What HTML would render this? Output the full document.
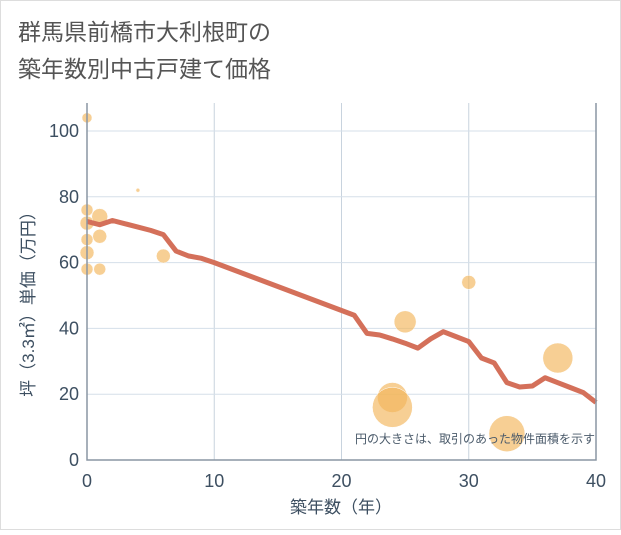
<!DOCTYPE html>
<html><head><meta charset="utf-8"><style>
body{margin:0;background:#fff}
.f{font-family:"Liberation Sans","Noto Sans CJK JP",sans-serif}
</style></head><body>
<svg width="621" height="530" class="f">
<rect x="0.5" y="0.5" width="620" height="529" fill="#fff" stroke="#ddd"/>
<text x="18" y="40" font-size="23" fill="#555">群馬県前橋市大利根町の</text>
<text x="18" y="77" font-size="23" fill="#555">築年数別中古戸建て価格</text>
<g id="grid"></g><g id="pts"></g><g id="ln"></g><g id="ax"></g>
<text x="595" y="443" font-size="12" fill="#4a5a6a" text-anchor="end">円の大きさは、取引のあった物件面積を示す</text>
<text x="341" y="513" font-size="17" fill="#3d4f61" text-anchor="middle">築年数（年）</text>
<text transform="translate(34,300) rotate(-90)" font-size="17" fill="#3d4f61" text-anchor="middle">坪（3.3㎡）単価（万円）</text>
</svg>
<script>
const xTicks=[0,10,20,30,40];
const yTicks=[0,20,40,60,80,100];
const lineX=[0,1,2,3,4,5,6,7,8,9,10,21,22,23,24,25,26,27,28,29,30,31,32,33,34,35,36,37,38,39,40];
const lineY=[72.5,71.5,72.8,71.8,70.8,69.8,68.5,63.5,62,61.3,60,44,38.5,38,36.8,35.5,34,36.8,39,37.5,36,31,29.5,23.5,22.2,22.5,25,23.5,22,20.5,17.5];
const ptX=[0,4,0,0,1,0,1,0,6,0,1,25,30,37,24,24,33];
const ptY=[104,82,76,72,74,67,68,63,62,58,58,42,54,31,19,16,8];
const ptR=[5,2,6,7,8,6,7,7,7,6,6,11,7,15,15,20,18];
const L=87,R=596,T=103,B=460;
const sx=v=>L+(v/40)*(R-L), sy=v=>B-(v/100)*(B-131);
const ns="http://www.w3.org/2000/svg";
function mk(p,t,a){const e=document.createElementNS(ns,t);for(const k in a)e.setAttribute(k,a[k]);document.getElementById(p).appendChild(e);return e;}
xTicks.forEach(v=>{if(v>0&&v<40){const e=mk('grid','line',{x1:sx(v),x2:sx(v),y1:T,y2:B,stroke:'#c8d3de'});

}
const t=mk('ax','text',{x:sx(v),y:487,'font-size':18,fill:'#3d4f61','text-anchor':'middle'});t.textContent=v;

});
yTicks.forEach(v=>{if(v>0){const e=mk('grid','line',{x1:L,x2:R,y1:sy(v),y2:sy(v),stroke:'#d5dfe9'});

}
const t=mk('ax','text',{x:79,y:sy(v)+6,'font-size':18,fill:'#3d4f61','text-anchor':'end'});t.textContent=v;

});
const a1=mk('ax','path',{d:`M${L},${T}V${B}H${R}V${T}`,fill:'none',stroke:'#8a96a3','stroke-width':1.5});


ptX.forEach((x,i)=>{const c=mk('pts','circle',{cx:sx(x),cy:sy(ptY[i]),r:ptR[i],fill:'#f2b65a','fill-opacity':0.65,stroke:'#fff','stroke-width':0.5});

});
const p=mk('ln','polyline',{points:lineX.map((x,i)=>sx(x)+','+sy(lineY[i])).join(' '),fill:'none',stroke:'#d4705a','stroke-width':5,'stroke-linejoin':'round'});


</script>
</body></html>
